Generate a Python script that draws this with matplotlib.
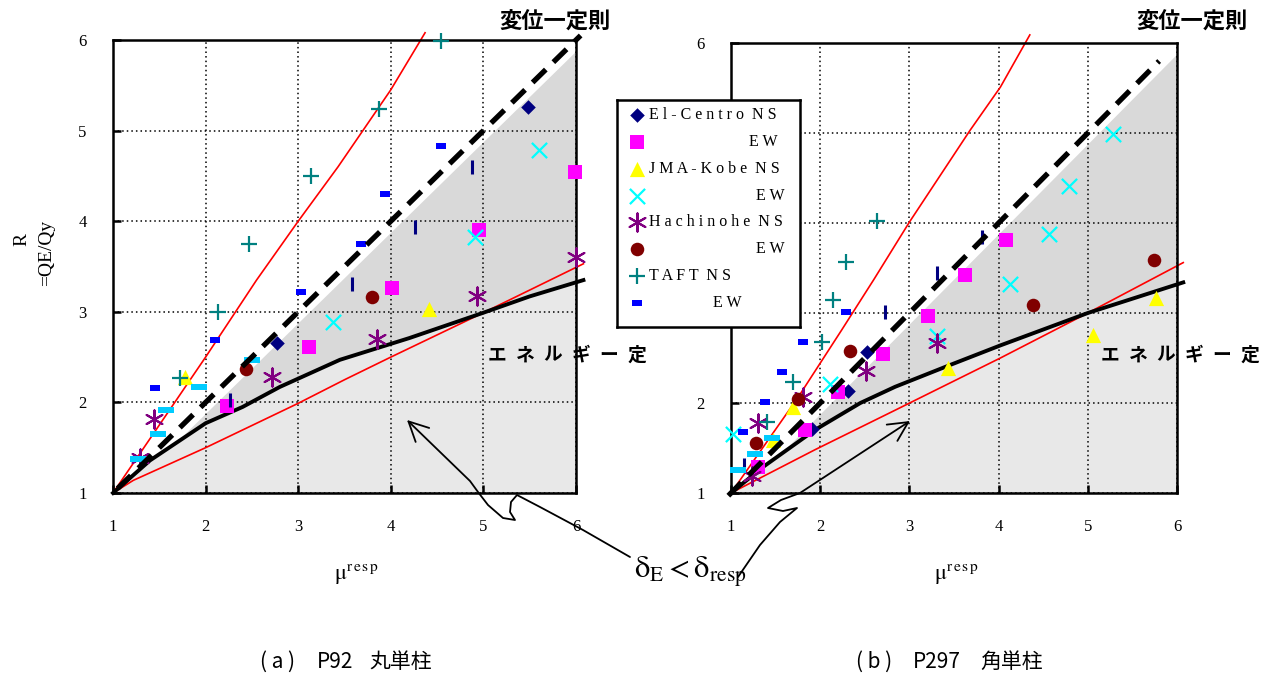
import numpy as np
import matplotlib
matplotlib.use('Agg')
import matplotlib.pyplot as plt
from matplotlib.path import Path
from matplotlib.patches import FancyArrowPatch

W, H = 1263, 678
SERIF = 'Liberation Serif'
JP = 'Noto Sans CJK JP'
plt.rcParams['font.family'] = SERIF
plt.rcParams['mathtext.fontset'] = 'stix'

TICKS = [1, 2, 3, 4, 5, 6]
A_TICKLABELS = ['1', '2', '3', '4', '5', '6']
B_YTICKLABELS = ['1', '2', '', '', '', '6']   # 3-5 sit behind the legend box

# ---- (a) P92 丸単柱 : (mu_resp, R) ----
a_elc_ns = [(5.48, 5.26), (2.77, 2.66)]
a_elc_ew = [(5.99, 4.54), (4.95, 3.90), (4.01, 3.26), (3.12, 2.61), (2.23, 1.96)]
a_kobe_ns = [(1.78, 2.28), (4.41, 3.03)]
a_kobe_ew = [(5.60, 4.79), (4.91, 3.83), (3.38, 2.89)]
a_hach_ns = [(6.00, 3.60), (4.93, 3.17), (3.85, 2.70), (2.72, 2.28), (1.44, 1.82), (1.29, 1.39)]
a_hach_ew = [(3.80, 3.16), (2.44, 2.37)]
a_taft_ns = [(4.54, 5.99), (3.87, 5.24), (3.14, 4.50), (2.47, 3.75), (2.13, 3.00), (1.72, 2.27)]
a_taft_ew = [(4.54, 4.83), (3.94, 4.30), (3.68, 3.75), (3.03, 3.22), (2.10, 2.69), (1.45, 2.16)]
a_bar = [(4.88, 4.60), (4.26, 3.94), (3.58, 3.31), (2.26, 2.03)]
a_wide = [(2.50, 2.47), (1.93, 2.17), (1.57, 1.92), (1.49, 1.65), (1.27, 1.38)]
a_energy = [(1.0, 1.0), (1.4, 1.36), (2.0, 1.77), (2.4, 1.95), (2.8, 2.17), (3.45, 2.47),
            (4.2, 2.71), (5.0, 2.99), (5.5, 3.17), (6.08, 3.35)]
a_red_hi = [(1.0, 1.0), (1.5, 1.75), (2.0, 2.5), (2.55, 3.35), (3.0, 4.0), (3.43, 4.6),
            (4.0, 5.45), (4.37, 6.08)]
a_red_lo = [(1.0, 1.0), (1.22, 1.14), (2.0, 1.5), (3.0, 1.99), (3.5, 2.25), (4.0, 2.5),
            (5.0, 2.99), (6.08, 3.53)]
a_disp = [1.05, 6.05]

# ---- (b) P297 角単柱 ----
b_elc_ns = [(2.52, 2.57), (2.31, 2.13), (1.91, 1.71)]
b_elc_ew = [(4.08, 3.81), (3.62, 3.42), (3.21, 2.97), (2.70, 2.54), (2.20, 2.12), (1.83, 1.70), (1.30, 1.29)]
b_kobe_ns = [(5.76, 3.17), (5.06, 2.76), (3.43, 2.39), (1.70, 1.96), (1.47, 1.59)]
b_kobe_ew = [(5.28, 4.99), (4.79, 4.41), (4.57, 3.88), (4.13, 3.32), (3.31, 2.74), (2.11, 2.21), (1.02, 1.66)]
b_hach_ns = [(3.31, 2.67), (2.51, 2.36), (1.81, 2.07), (1.30, 1.78), (1.24, 1.19)]
b_hach_ew = [(5.74, 3.59), (4.39, 3.09), (2.33, 2.58), (1.75, 2.05), (1.28, 1.56)]
b_taft_ns = [(2.64, 4.02), (2.29, 3.57), (2.14, 3.14), (2.02, 2.68), (1.70, 2.23), (1.40, 1.79)]
b_taft_ew = [(2.29, 3.01), (1.81, 2.68), (1.57, 2.34), (1.38, 2.01), (1.13, 1.68)]
b_bar = [(3.81, 3.84), (3.31, 3.44), (2.73, 3.01), (1.15, 1.31)]
b_wide = [(1.46, 1.61), (1.27, 1.43), (1.08, 1.26)]
b_energy = [(1.0, 1.0), (1.36, 1.29), (1.94, 1.70), (2.45, 2.0), (2.84, 2.18), (3.45, 2.42),
            (4.02, 2.64), (5.0, 3.0), (6.07, 3.34)]
b_red_hi = [(1.0, 1.0), (1.75, 2.06), (2.24, 2.81), (2.6, 3.37), (3.0, 4.01), (3.46, 4.7),
            (3.68, 5.03), (4.02, 5.51), (4.35, 6.09)]
b_red_lo = [(1.0, 1.0), (1.94, 1.48), (2.84, 1.92), (3.45, 2.22), (4.02, 2.5), (5.0, 3.0),
            (6.07, 3.56)]
b_disp = [0.97, 5.8]

LEGEND_LABELS = ['El-Centro NS', 'EW', 'JMA-Kobe NS', 'EW', 'Hachinohe NS', 'EW', 'TAFT NS', 'EW']

# marker styles
dash_small = [(-1, -0.55), (1, -0.55), (1, 0.55), (-1, 0.55)]
dash_wide = [(-1, -0.38), (1, -0.38), (1, 0.38), (-1, 0.38)]
STY = {
    'elc_ns': dict(marker='D', s=55, c='#000080', linewidths=0),
    'elc_ew': dict(marker='s', s=115, c='#ff00ff', linewidths=0),
    'kobe_ns': dict(marker='^', s=120, c='#ffff00', linewidths=0),
    'kobe_ew': dict(marker='x', s=120, c='#00ffff', linewidths=1.6),
    'hach_ns': dict(marker=(6, 2, 0), s=170, c='#800080', linewidths=1.5),
    'hach_ew': dict(marker='o', s=95, c='#800000', linewidths=0),
    'taft_ns': dict(marker='+', s=140, c='#008080', linewidths=1.6),
    'taft_ew': dict(marker=dash_small, s=55, c='#0000ff', linewidths=0),
    'bar': dict(marker='|', s=100, c='#000080', linewidths=2.2),
    'wide': dict(marker=dash_wide, s=140, c='#00ccff', linewidths=0),
}
LEG_KEYS = ['elc_ns', 'elc_ew', 'kobe_ns', 'kobe_ew', 'hach_ns', 'hach_ew', 'taft_ns', 'taft_ew']


def fx(px): return px / W
def fy(py): return 1 - py / H


def xy(pts):
    a = np.array(pts, dtype=float)
    return a[:, 0], a[:, 1]


fig = plt.figure(figsize=(W / 100, H / 100), dpi=100)


def panel(rect, series, energy, red_hi, red_lo, disp, ylabels):
    ax = fig.add_axes(rect)
    ax.set_xlim(1, 6); ax.set_ylim(1, 6)
    ax.set_xticks(TICKS, A_TICKLABELS); ax.set_yticks(TICKS, ylabels)
    ax.set_axisbelow('line')
    ax.grid(True, color='k', ls=(0, (1, 2)), lw=1.1)
    ax.tick_params(direction='in', length=6, width=1.8, pad=19, labelsize=12)
    for s in ax.spines.values():
        s.set_linewidth(1.8)
    bx, by = xy(energy)
    xg = np.linspace(1, 6.2, 400)
    lower = np.interp(xg, bx, by)
    upper = xg - 0.12
    ax.fill_between(xg, 1, lower, color='#e8e8e8', lw=0, zorder=0.5)
    ax.fill_between(xg, lower, upper, where=upper > lower, interpolate=True,
                    color='#d9d9d9', lw=0, zorder=0.5)
    rx, ry = xy(red_hi)
    ax.plot(rx, ry, color='#ff0000', lw=1.2, clip_on=False, zorder=2.5)
    rx, ry = xy(red_lo)
    ax.plot(rx, ry, color='#ff0000', lw=1.2, clip_on=False, zorder=2.5)
    ax.plot(bx, by, color='k', lw=2.8, clip_on=False, zorder=2.6)
    for key, pts in series.items():
        px, py = xy(pts)
        ax.scatter(px, py, zorder=3, clip_on=False, **STY[key])
    ax.plot(disp, disp, color='k', lw=3.8, ls=(0, (3.5, 2)), clip_on=False, zorder=4)
    return ax


axA = panel([fx(113), fy(493), fx(576) - fx(113), fy(40) - fy(493)],
            {'elc_ns': a_elc_ns, 'elc_ew': a_elc_ew, 'kobe_ns': a_kobe_ns, 'kobe_ew': a_kobe_ew,
             'hach_ns': a_hach_ns, 'hach_ew': a_hach_ew, 'taft_ns': a_taft_ns, 'taft_ew': a_taft_ew,
             'bar': a_bar, 'wide': a_wide},
            a_energy, a_red_hi, a_red_lo, a_disp, A_TICKLABELS)
axB = panel([fx(731), fy(493), fx(1177) - fx(731), fy(43) - fy(493)],
            {'elc_ns': b_elc_ns, 'elc_ew': b_elc_ew, 'kobe_ns': b_kobe_ns, 'kobe_ew': b_kobe_ew,
             'hach_ns': b_hach_ns, 'hach_ew': b_hach_ew, 'taft_ns': b_taft_ns, 'taft_ew': b_taft_ew,
             'bar': b_bar, 'wide': b_wide},
            b_energy, b_red_hi, b_red_lo, b_disp, B_YTICKLABELS)

# legend box (pixel coordinates)
leg = fig.add_axes([fx(617), fy(327), fx(800) - fx(617), fy(100) - fy(327)], zorder=10)
leg.set_xlim(617, 800); leg.set_ylim(327, 100)
leg.set_xticks([]); leg.set_yticks([])
for s in leg.spines.values():
    s.set_linewidth(1.8)
row_y = [115, 142, 169, 196, 222, 249, 276, 303]
text_x = [649, 749, 649, 756, 649, 756, 649, 713]
for key, lab, yy, tx in zip(LEG_KEYS, LEGEND_LABELS, row_y, text_x):
    leg.scatter([637], [yy], **STY[key])
    spaced = '  '.join(' '.join(w) for w in lab.split())
    leg.text(tx, yy, spaced, fontsize=11.5, va='center', ha='left')

# overlay for free annotations
ov = fig.add_axes([0, 0, 1, 1], zorder=20)
ov.set_xlim(0, W); ov.set_ylim(H, 0); ov.axis('off')

ov.text(22, 240, 'R', rotation=90, fontsize=14, ha='center', va='center')
ov.text(47, 253, '=QE/Qy', rotation=90, fontsize=14, ha='center', va='center')
for cx in (357, 957):
    ov.text(cx, 575, r'$\mathrm{μ}^{\mathrm{r\,e\,s\,p}}$', fontsize=16, ha='center', va='center')

for cx in (555, 1192):
    ov.text(cx, 22, '変位一定則', family=JP, fontsize=16, fontweight='bold',
            ha='center', va='center')
for x0 in (497, 1110):
    for i, ch in enumerate('エネルギー定'):
        ov.text(x0 + i * 28, 355, ch, family=JP, fontsize=13.5, fontweight='bold',
                ha='center', va='center')

ov.text(690, 572, r'$\mathrm{δ}_{\mathrm{E}} < \mathrm{δ}_{\mathrm{resp}}$', fontsize=22,
        ha='center', va='center')

left_curve = [(630, 557), (583, 530), (540, 507), (517, 495), (511, 502), (510, 512),
              (515, 520), (503, 518), (488, 505), (478, 492), (470, 481), (407, 420)]
right_curve = [(738, 577), (760, 545), (780, 522), (797, 508), (783, 511), (768, 508),
               (781, 500), (800, 493), (910, 421)]
for pts in (left_curve, right_curve):
    arr = FancyArrowPatch(path=Path(pts), arrowstyle='->,head_length=0.7,head_width=0.35',
                          mutation_scale=20, lw=1.3, color='k')
    ov.add_patch(arr)

for txt, cx in (('( a )', 277), ('P92', 335), ('丸単柱', 401),
                ('( b )', 874), ('P297', 937), ('角単柱', 1012)):
    ov.text(cx, 662, txt, family=JP, fontsize=15, ha='center', va='center')

fig.savefig('out.png', dpi=100, facecolor='white')
